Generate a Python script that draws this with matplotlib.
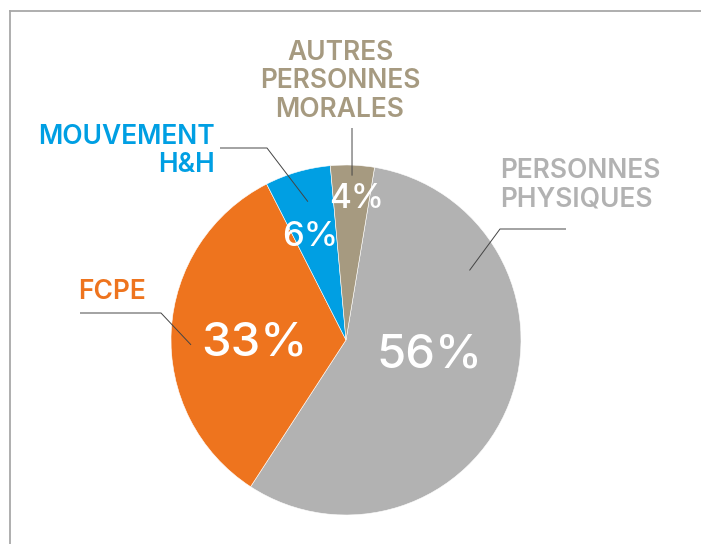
import numpy as np
import matplotlib
matplotlib.use("Agg")
from matplotlib import pyplot as plt
from matplotlib.lines import Line2D

# data, clockwise from the top
labels = ["PERSONNES\nPHYSIQUES", "FCPE", "MOUVEMENT\nH&H", "AUTRES\nPERSONNES\nMORALES"]
shares = [56, 33, 6, 4]
colors = ["#B2B2B2", "#EE741E", "#009FE3", "#A69A80"]
text_colors = ["#B2B2B2", "#EE741E", "#009FE3", "#A69A80"]

W, H, DPI = 701, 544, 100
CX, CY, R = 346, 340, 175  # pie centre and radius in pixels


def px(x, y):
    # pixel position (from top-left) -> data coords where the pie radius is 1
    return (x - CX) / R, (CY - y) / R


def polar(angle, r):
    a = np.deg2rad(angle)
    return r * np.cos(a), r * np.sin(a)


plt.rcParams["font.family"] = ["Inter", "DejaVu Sans"]

fig = plt.figure(figsize=(W / DPI, H / DPI), dpi=DPI)
ax = fig.add_axes([0, 0, 1, 1])

wedges, _ = ax.pie(
    shares,
    colors=colors,
    startangle=80.6,
    counterclock=False,
    radius=1,
    wedgeprops=dict(edgecolor="white", linewidth=0.4),
)
ax.set_xlim(-CX / R, (W - CX) / R)
ax.set_ylim(-(H - CY) / R, CY / R)
ax.axis("off")

# percentage labels: (angle, radius, fontsize)
pct_pos = [(-7.5, 0.48, 34), (178.8, 0.525, 34), (108.8, 0.64, 25), (85.7, 0.83, 24)]
for share, (ang, r, fs) in zip(shares, pct_pos):
    x, y = polar(ang, r)
    ax.text(x, y, f"{share}%", color="white", fontsize=fs, fontweight="medium",
            ha="center", va="center_baseline")

# category labels with leader lines
# text anchor (px), alignment, elbow (px), end on the wedge (angle, r)
label_layout = [
    ((500, 158), "left", [(566, 229), (500, 229)], (29.4, 0.81)),
    ((78, 279), "left", [(80, 313), (161, 313)], (181.8, 0.886)),
    ((215, 124), "right", [(220, 148), (267, 148)], (105.4, 0.82)),
    ((340, 40), "center", [(352, 128)], (87.9, 0.94)),
]
for lab, col, (tpos, ha, elbow, end) in zip(labels, text_colors, label_layout):
    tx, ty = px(*tpos)
    ax.text(tx, ty, lab, color=col, fontsize=19, fontweight="semibold",
            ha=ha, va="top", multialignment=ha, linespacing=1.12)
    pts = [px(*p) for p in elbow] + [polar(*end)]
    xs, ys = zip(*pts)
    ax.plot(xs, ys, color="#444444", lw=0.7, solid_capstyle="butt")

# frame lines (top and left)
fig.add_artist(Line2D([10 / W, 1], [1 - 11 / H, 1 - 11 / H],
                      transform=fig.transFigure, color="#A8A8A8", lw=1.3))
fig.add_artist(Line2D([10 / W, 10 / W], [0, 1 - 11 / H],
                      transform=fig.transFigure, color="#A8A8A8", lw=1.3))

fig.savefig("out.png", dpi=DPI)
